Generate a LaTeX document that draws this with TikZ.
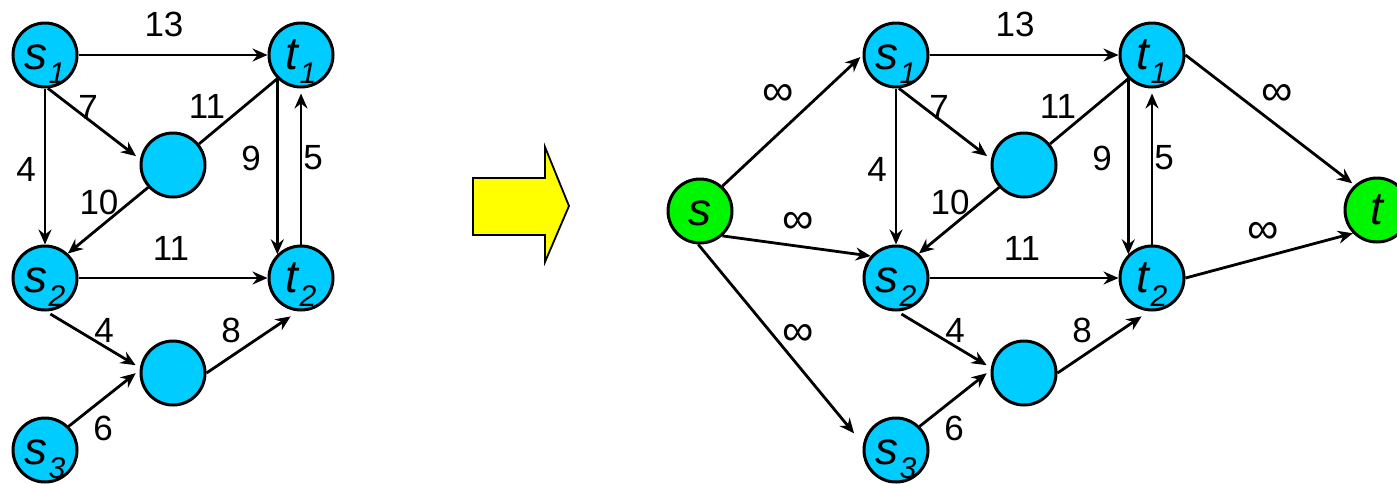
\documentclass[tikz,border=0pt]{standalone}
\usepackage{fontspec}
\setmainfont{Liberation Sans}
\usetikzlibrary{arrows.meta}
\definecolor{ncyan}{RGB}{0,204,255}
\definecolor{ngreen}{RGB}{0,245,0}
\definecolor{ayellow}{RGB}{255,255,0}
\newcommand\subx[1]{\kern1pt\raisebox{-14pt}{\fontsize{30}{30}\selectfont #1}}
\tikzset{
  vtx/.style={circle, draw, line width=3pt, fill=ncyan, minimum size=64pt, inner sep=0pt,
    text height=29pt, text depth=0pt, font=\fontsize{46}{46}\selectfont\itshape},
  term/.style={vtx, fill=ngreen},
  edge/.style={line width=2.8pt, -{Stealth[length=15pt,width=13pt,inset=5pt]}},
  plain/.style={line width=2.8pt},
  lbl/.style={inner sep=0pt, font=\fontsize{35}{35}\selectfont},
  inf/.style={inner sep=0pt, font=\fontsize{44}{44}\selectfont},
}
\newcommand\flownet[1]{%
  \node[vtx] (#1s1) at (45,55) {s\subx{1}};
  \node[vtx] (#1t1) at (301,55) {t\subx{1}};
  \node[vtx] (#1m1) at (173,165) {};
  \node[vtx] (#1s2) at (45,278) {s\subx{2}};
  \node[vtx] (#1t2) at (301,278) {t\subx{2}};
  \node[vtx] (#1m2) at (173,373) {};
  \node[vtx] (#1s3) at (45,450) {s\subx{3}};
  \draw[edge] (#1s1.east) -- (#1t1.west);
  \draw[edge] (#1s1.south) -- (#1s2.north);
  \draw[edge, shorten >=5pt] (#1s1.-85) -- (#1m1.170);
  \draw[plain] (#1m1.39) -- (#1t1.225);
  \draw[edge] (#1m1.222) -- (#1s2.47);
  \draw[edge] (#1t1.south west) -- (#1t2.north west);
  \draw[edge, shorten >=5pt] (#1t2.north) -- (#1t1.south);
  \draw[edge] (#1s2.east) -- (#1t2.west);
  \draw[edge, shorten <=5pt, shorten >=5pt] (#1s2.-88) -- (#1m2.171);
  \draw[edge, shorten >=5pt] (#1s3.45) -- (#1m2.175);
  \draw[edge, shorten >=9pt] (#1m2.east) -- (#1t2.-95);
  \node[lbl] (#1l13) at (164,24) {13};
  \node[lbl] (#1l7) at (88,107) {7};
  \node[lbl] (#1l11a) at (207,106) {11};
  \node[lbl] (#1l4a) at (26,169) {4};
  \node[lbl] (#1l9) at (251,158) {9};
  \node[lbl] (#1l5) at (313,158) {5};
  \node[lbl] (#1l10) at (99,202) {10};
  \node[lbl] (#1l11b) at (171,248) {11};
  \node[lbl] (#1l4b) at (104,330) {4};
  \node[lbl] (#1l8) at (231,330) {8};
  \node[lbl] (#1l6) at (103,428) {6};
}
\begin{document}
\begin{tikzpicture}[x=1pt, y=-1pt]
  \useasboundingbox (0,0) rectangle (1397,483);
  \flownet{L}
  \draw[line width=1.8pt, fill=ayellow, line join=miter]
    (473,178) -- (545,178) -- (545,147) -- (569,206) -- (545,262) -- (545,235) -- (473,235) -- cycle;
  \begin{scope}[xshift=851pt]
    \flownet{R}
  \end{scope}
  \node[term] (S) at (700,211) {s};
  \node[term] (T) at (1377,210) {t};
  \draw[edge, shorten >=3pt] (S.48) -- (Rs1.west);
  \draw[edge] (S.-48) -- (Rs2.139);
  \draw[edge, shorten >=14pt] (S.-93) -- (Rs3.170);
  \draw[edge, shorten >=3pt] (Rt1.east) -- (T.132);
  \draw[edge] (Rt2.east) -- (T.224);
  \node[inf] (i1) at (778,95) {∞};
  \node[inf] (i2) at (798,223) {∞};
  \node[inf] (i3) at (798,335) {∞};
  \node[inf] (i4) at (1277,95) {∞};
  \node[inf] (i5) at (1263,233) {∞};
\end{tikzpicture}
\end{document}
